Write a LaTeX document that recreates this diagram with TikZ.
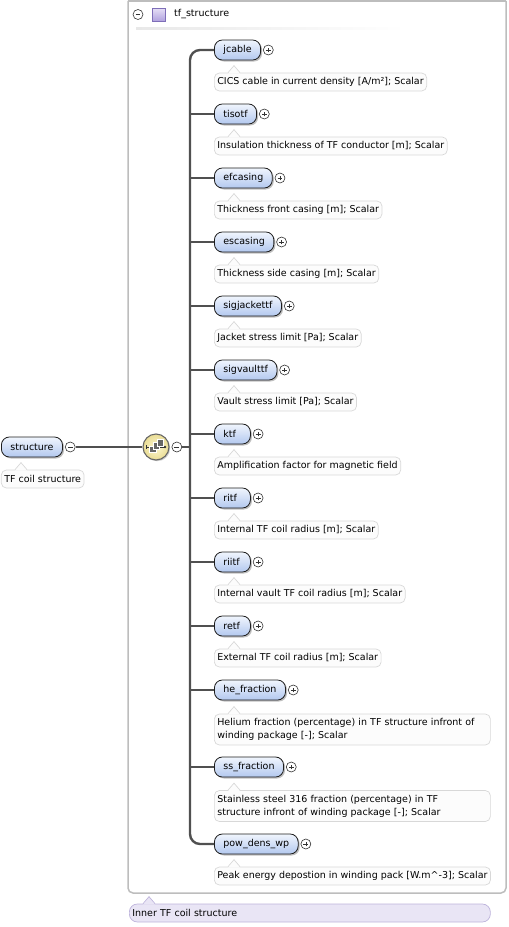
\documentclass[tikz,border=0pt]{standalone}
\usepackage{fontspec}
\setmainfont{DejaVu Sans}
\usetikzlibrary{positioning,shadows}

\definecolor{pilltop}{HTML}{F0F5FD}
\definecolor{pillbot}{HTML}{B3C8EF}
\definecolor{pillline}{HTML}{1E1E1E}
\definecolor{descfill}{HTML}{FCFCFC}
\definecolor{descline}{HTML}{D8D8D8}
\definecolor{frameline}{HTML}{BDBDBD}
\definecolor{wireline}{HTML}{505050}
\definecolor{seqfill}{HTML}{FDF8D2}
\definecolor{seqedge}{HTML}{E9DC94}
\definecolor{notefill}{HTML}{E9E5F5}
\definecolor{noteline}{HTML}{BDB3DB}
\definecolor{typetop}{HTML}{E6E0F7}
\definecolor{typebot}{HTML}{B1A2DE}
\definecolor{typeline}{HTML}{7E6EB8}

\tikzset{
  elem/.style={draw=pillline, line width=0.8pt, rounded corners=8pt, top color=pilltop, bottom color=pillbot,
    minimum height=20pt, inner xsep=9pt, inner ysep=0pt, anchor=west,
    drop shadow={shadow xshift=1.5pt, shadow yshift=-1.5pt, opacity=0.5}, font=\fontsize{9.5}{11}\selectfont},
  elemshort/.style={elem, text width=18pt},
  desc/.style={draw=descline, fill=descfill, line width=0.7pt, rounded corners=5pt, anchor=west,
    inner xsep=3pt, inner ysep=0pt, minimum height=18pt, font=\fontsize{9.5}{13}\selectfont},
  desclong/.style={desc, text width=270pt, align=left, minimum height=31pt},
  notebox/.style={draw=noteline, fill=notefill, line width=0.7pt, rounded corners=8pt, anchor=west,
    inner xsep=3pt, inner ysep=0pt, minimum height=18pt, text width=355pt, font=\fontsize{9.5}{11}\selectfont},
  btn/.style={circle, draw=black!80, fill=white, line width=0.6pt, minimum size=10pt, inner sep=0pt},
  expandbtn/.style={btn, path picture={\draw[black!80, line width=0.6pt]
    ([xshift=-2.4pt]path picture bounding box.center) -- ([xshift=2.4pt]path picture bounding box.center)
    ([yshift=-2.4pt]path picture bounding box.center) -- ([yshift=2.4pt]path picture bounding box.center);}},
  collapsebtn/.style={btn, path picture={\draw[black!80, line width=0.6pt]
    ([xshift=-2.4pt]path picture bounding box.center) -- ([xshift=2.4pt]path picture bounding box.center);}},
  seqnode/.style={circle, draw=black!60, line width=1.1pt, inner color=seqfill, outer color=seqedge,
    minimum size=26pt, inner sep=0pt, drop shadow={shadow xshift=1.2pt, shadow yshift=-1.2pt, opacity=0.4}},
  seqsquare/.style={draw=white, fill=black!60, line width=0.6pt},
  typebox/.style={draw=typeline, line width=0.7pt, top color=typetop, bottom color=typebot,
    minimum size=13pt, inner sep=0pt},
  link/.style={draw=wireline, line width=1.8pt},
  busline/.style={draw=wireline, line width=2.4pt}
}

% pointer on top of a description box: node, fill, line
\def\notch#1#2#3{\fill[#2] ([xshift=14pt,yshift=-1pt]#1.north west) -- ([xshift=20pt,yshift=7pt]#1.north west) -- ([xshift=26pt,yshift=-1pt]#1.north west) -- cycle;
  \draw[#3, line width=0.7pt] ([xshift=14pt]#1.north west) -- ([xshift=20pt,yshift=7pt]#1.north west) -- ([xshift=26pt]#1.north west);}

\begin{document}
\begin{tikzpicture}[x=1pt, y=-1pt]
			%%%%% START %%%%%
			\useasboundingbox (0,0) rectangle (509,927);
			
			\draw[frameline, line width=1.5pt, rounded corners=5pt] (128,0.8) -- (128,893) -- (506,893) -- (506,0.8);
			\draw[frameline, line width=1.5pt] (128,0.8) -- (506,0.8);
			\shade[left color=black!9, right color=white] (136,27.8) rectangle (405,29);
			
			\node[collapsebtn] (tfminus) at (138,14.5) {};
			\node[typebox] (tftype) at (158.5,14.5) {};
			\node[anchor=west, inner sep=0pt, font=\fontsize{9.5}{11}\selectfont] (tfname) at (174,14.5) {tf\_structure};
			
			%%%%% PARENT %%%%%
			\node[elem] (structure) at (1,447) {structure};
			\node[collapsebtn, right=2pt of structure] (structminus) {};
			\node[desc] (structdesc) at (1,479) {TF coil structure};
			\notch{structdesc}{descfill}{descline}
			
			\node[seqnode] (seq) at (156,447) {};
			\draw[black!80, line width=0.9pt] ([xshift=-10pt]seq.center) -- ([xshift=9pt]seq.center);
			\draw[black!80, line width=0.9pt] ([xshift=-10pt,yshift=-2pt]seq.center) -- ([xshift=-10pt,yshift=2pt]seq.center);
			\fill[black!80] ([xshift=9pt]seq.center) circle (1.3pt);
			\filldraw[seqsquare] ([xshift=-6.5pt,yshift=-5.5pt]seq.center) rectangle +(6.5pt,6.5pt);
			\filldraw[seqsquare] ([xshift=-2.75pt,yshift=-2.25pt]seq.center) rectangle +(6.5pt,6.5pt);
			\filldraw[seqsquare] ([xshift=1pt,yshift=1pt]seq.center) rectangle +(6.5pt,6.5pt);
			\node[collapsebtn, right=2pt of seq] (seqminus) {};
			
			\draw[link] (structminus.east) -- (seq.west);
			
			%%%%% CHILDREN %%%%%
			\node[elem] (jcable) at (214,50) {jcable};
			\node[expandbtn, right=2pt of jcable] (jcableplus) {};
			\node[desc] (jcabledesc) at (214,82) {CICS cable in current density [A/m²]; Scalar};
			\notch{jcabledesc}{descfill}{descline}
			
			\node[elem] (tisotf) at (214,114) {tisotf};
			\node[expandbtn, right=2pt of tisotf] (tisotfplus) {};
			\node[desc] (tisotfdesc) at (214,146) {Insulation thickness of TF conductor [m]; Scalar};
			\notch{tisotfdesc}{descfill}{descline}
			
			\node[elem] (efcasing) at (214,178) {efcasing};
			\node[expandbtn, right=2pt of efcasing] (efcasingplus) {};
			\node[desc] (efcasingdesc) at (214,210) {Thickness front casing [m]; Scalar};
			\notch{efcasingdesc}{descfill}{descline}
			
			\node[elem] (escasing) at (214,242) {escasing};
			\node[expandbtn, right=2pt of escasing] (escasingplus) {};
			\node[desc] (escasingdesc) at (214,274) {Thickness side casing [m]; Scalar};
			\notch{escasingdesc}{descfill}{descline}
			
			\node[elem] (sigjackettf) at (214,306) {sigjackettf};
			\node[expandbtn, right=2pt of sigjackettf] (sigjackettfplus) {};
			\node[desc] (sigjackettfdesc) at (214,338) {Jacket stress limit [Pa]; Scalar};
			\notch{sigjackettfdesc}{descfill}{descline}
			
			\node[elem] (sigvaulttf) at (214,370) {sigvaulttf};
			\node[expandbtn, right=2pt of sigvaulttf] (sigvaulttfplus) {};
			\node[desc] (sigvaulttfdesc) at (214,402) {Vault stress limit [Pa]; Scalar};
			\notch{sigvaulttfdesc}{descfill}{descline}
			
			\node[elemshort] (ktf) at (214,434) {ktf};
			\node[expandbtn, right=2pt of ktf] (ktfplus) {};
			\node[desc] (ktfdesc) at (214,466) {Amplification factor for magnetic field};
			\notch{ktfdesc}{descfill}{descline}
			
			\node[elemshort] (ritf) at (214,498) {ritf};
			\node[expandbtn, right=2pt of ritf] (ritfplus) {};
			\node[desc] (ritfdesc) at (214,530) {Internal TF coil radius [m]; Scalar};
			\notch{ritfdesc}{descfill}{descline}
			
			\node[elemshort] (riitf) at (214,562) {riitf};
			\node[expandbtn, right=2pt of riitf] (riitfplus) {};
			\node[desc] (riitfdesc) at (214,594) {Internal vault TF coil radius [m]; Scalar};
			\notch{riitfdesc}{descfill}{descline}
			
			\node[elemshort] (retf) at (214,626) {retf};
			\node[expandbtn, right=2pt of retf] (retfplus) {};
			\node[desc] (retfdesc) at (214,658) {External TF coil radius [m]; Scalar};
			\notch{retfdesc}{descfill}{descline}
			
			\node[elem] (hefraction) at (214,690) {he\_fraction};
			\node[expandbtn, right=2pt of hefraction] (hefractionplus) {};
			\node[desclong] (hefractiondesc) at (214,729.5) {Helium fraction (percentage) in TF structure infront of\\winding package [-]; Scalar};
			\notch{hefractiondesc}{descfill}{descline}
			
			\node[elem] (ssfraction) at (214,767) {ss\_fraction};
			\node[expandbtn, right=2pt of ssfraction] (ssfractionplus) {};
			\node[desclong] (ssfractiondesc) at (214,806) {Stainless steel 316 fraction (percentage) in TF\\structure infront of winding package [-]; Scalar};
			\notch{ssfractiondesc}{descfill}{descline}
			
			\node[elem] (powdens) at (214,844) {pow\_dens\_wp};
			\node[expandbtn, right=2pt of powdens] (powdensplus) {};
			\node[desc] (powdensdesc) at (214,876) {Peak energy depostion in winding pack [W.m\textasciicircum-3]; Scalar};
			\notch{powdensdesc}{descfill}{descline}
			
			%%%%% BUS %%%%%
			\coordinate (bus) at (190,447);
			\draw[link] (seqminus.east) -- (bus);
			\draw[busline, rounded corners=10pt] (jcable.west) -- (bus |- jcable.west) -- (bus |- powdens.west) -- (powdens.west);
			\draw[link] (bus |- tisotf.west) -- (tisotf.west);
			\draw[link] (bus |- efcasing.west) -- (efcasing.west);
			\draw[link] (bus |- escasing.west) -- (escasing.west);
			\draw[link] (bus |- sigjackettf.west) -- (sigjackettf.west);
			\draw[link] (bus |- sigvaulttf.west) -- (sigvaulttf.west);
			\draw[link] (bus |- ktf.west) -- (ktf.west);
			\draw[link] (bus |- ritf.west) -- (ritf.west);
			\draw[link] (bus |- riitf.west) -- (riitf.west);
			\draw[link] (bus |- retf.west) -- (retf.west);
			\draw[link] (bus |- hefraction.west) -- (hefraction.west);
			\draw[link] (bus |- ssfraction.west) -- (ssfraction.west);
			
			%%%%% NOTE %%%%%
			\node[notebox] (note) at (129,913) {Inner TF coil structure};
			\notch{note}{notefill}{noteline}
			
			%%%%% END %%%%%
\end{tikzpicture}
\end{document}
